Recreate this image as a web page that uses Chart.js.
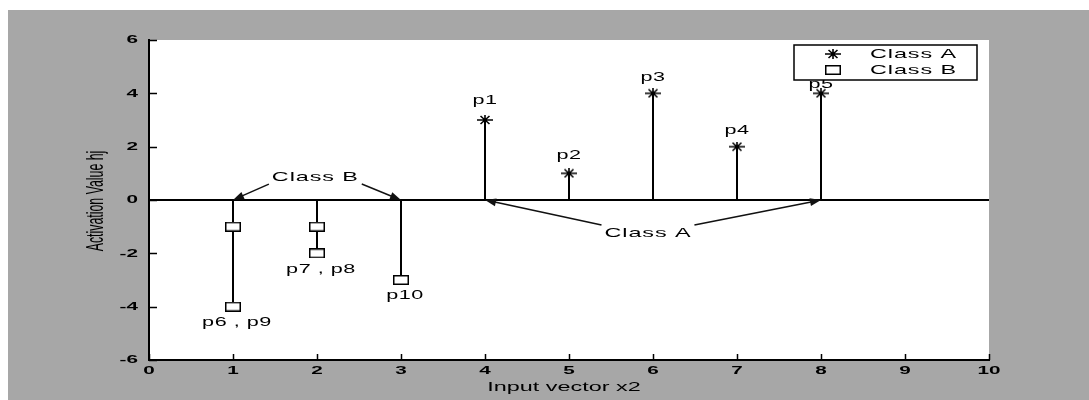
<!DOCTYPE html>
<html>
<head>
<meta charset="utf-8">
<script src="https://cdn.jsdelivr.net/npm/chart.js@4/dist/chart.umd.min.js"></script>
<style>
  html, body { margin: 0; padding: 0; background: #fff; }
  #wrap { width: 1089px; height: 400px; }
</style>
</head>
<body>
<div id="wrap"><canvas id="stemChart" width="1089" height="400"></canvas></div>
<script>
// Values
const classAX = [4, 5, 6, 7, 8];
const classAY = [3, 1, 4, 2, 4];
const classALabels = ['p1', 'p2', 'p3', 'p4', 'p5'];

const classBX = [1, 1, 2, 2, 3];
const classBY = [-1, -4, -1, -2, -3];
const groupBX = [1, 2, 3];
const groupBLabels = ['p6 , p9', 'p7 , p8', 'p10'];

const xRange = [0, 10];
const yRange = [-6, 6];
const xStep = 1;
const yStep = 2;

const noteText = ['Class B', 'Class A'];
const noteX = [1.98, 5.94];
const noteY = [0.86, -1.24];
const noteTips = [[1, 3], [4, 8]];

const seriesNames = ['Class A', 'Class B'];
const xTitle = 'Input vector x2';
const yTitle = 'Activation Value hj';

// the scanned figure is stretched sideways, so text gets the same stretch
const STRETCH = 1.8;
const FONT = '"Liberation Sans", Arial, sans-serif';

// small canvases used as point styles
function makeMarker(w, h, draw) {
    const cv = document.createElement('canvas');
    cv.width = w;
    cv.height = h;
    draw(cv.getContext('2d'), w, h);
    return cv;
}

const starMark = makeMarker(16, 10, function(c, w, h) {
    c.strokeStyle = '#000';
    c.lineWidth = 1.6;
    c.beginPath();
    c.moveTo(0, h / 2); c.lineTo(w, h / 2);
    c.moveTo(w / 2, 0); c.lineTo(w / 2, h);
    c.moveTo(w * 0.22, h * 0.1); c.lineTo(w * 0.78, h * 0.9);
    c.moveTo(w * 0.22, h * 0.9); c.lineTo(w * 0.78, h * 0.1);
    c.stroke();
});

const boxMark = makeMarker(16, 10, function(c, w, h) {
    c.fillStyle = '#fff';
    c.fillRect(1, 1, w - 2, h - 2);
    c.strokeStyle = '#000';
    c.lineWidth = 1.5;
    c.strokeRect(0.75, 0.75, w - 1.5, h - 1.5);
});

function stemPoints(xs, ys) {
    const pts = [];
    xs.forEach(function(x, i) {
        pts.push({x: x, y: 0}, {x: x, y: ys[i]}, {x: x, y: null});
    });
    return pts;
}

function markerPoints(xs, ys) {
    return xs.map(function(x, i) { return {x: x, y: ys[i]}; });
}

function setFont(ctx, size, spacing, weight) {
    ctx.font = (weight || 'normal') + ' ' + size + 'px ' + FONT;
    ctx.letterSpacing = (spacing || 0) + 'px';
}

function wideText(ctx, txt, x, y, opts) {
    opts = opts || {};
    ctx.save();
    setFont(ctx, opts.size || 13, opts.spacing, opts.weight);
    ctx.fillStyle = '#000';
    ctx.textBaseline = 'middle';
    ctx.textAlign = opts.align || 'center';
    ctx.translate(x, y);
    ctx.scale(STRETCH, 1);
    ctx.fillText(txt, 0, 0);
    ctx.restore();
}

function wideWidth(ctx, txt, size, spacing) {
    ctx.save();
    setFont(ctx, size, spacing);
    const w = ctx.measureText(txt).width * STRETCH;
    ctx.restore();
    return w;
}

function arrow(ctx, x0, y0, x1, y1) {
    const ang = Math.atan2(y1 - y0, x1 - x0);
    const len = 11, half = 4;
    ctx.beginPath();
    ctx.moveTo(x0, y0);
    ctx.lineTo(x1 - Math.cos(ang) * len * 0.8, y1 - Math.sin(ang) * len * 0.8);
    ctx.stroke();
    ctx.beginPath();
    ctx.moveTo(x1, y1);
    ctx.lineTo(x1 - Math.cos(ang) * len - Math.sin(ang) * half, y1 - Math.sin(ang) * len + Math.cos(ang) * half);
    ctx.lineTo(x1 - Math.cos(ang) * len + Math.sin(ang) * half, y1 - Math.sin(ang) * len - Math.cos(ang) * half);
    ctx.closePath();
    ctx.fill();
}

const labelNudgeA = [-19, -18, -16, -16, -9];
const noteStyle = { size: 13, spacing: 0.5 };
const pStyle = { size: 12, spacing: 0.3 };
const tickStyle = { size: 11.5, weight: 'bold' };

const decorPlugin = {
    id: 'decor',
    beforeDraw: function(chart) {
        const ctx = chart.ctx;
        const a = chart.chartArea;
        ctx.save();
        ctx.fillStyle = '#fff';
        ctx.fillRect(0, 0, chart.width, chart.height);
        ctx.fillStyle = '#a7a7a7';
        ctx.fillRect(8, 10, chart.width - 8, chart.height - 10);
        ctx.fillStyle = '#fff';
        ctx.fillRect(a.left, a.top, a.right - a.left, a.bottom - a.top);
        ctx.restore();
    },
    afterDraw: function(chart) {
        const ctx = chart.ctx;
        const a = chart.chartArea;
        const xs = chart.scales.x;
        const ys = chart.scales.y;
        ctx.save();

        // inward tick marks and stretched tick labels
        ctx.strokeStyle = '#000';
        ctx.lineWidth = 1.5;
        ctx.beginPath();
        xs.ticks.forEach(function(t) {
            const px = Math.round(xs.getPixelForValue(t.value)) + 0.5;
            ctx.moveTo(px, a.bottom);
            ctx.lineTo(px, a.bottom - 6);
        });
        ys.ticks.forEach(function(t) {
            const py = Math.round(ys.getPixelForValue(t.value)) + 0.5;
            ctx.moveTo(a.left, py);
            ctx.lineTo(a.left + 8, py);
        });
        ctx.stroke();
        xs.ticks.forEach(function(t) {
            wideText(ctx, String(t.value), xs.getPixelForValue(t.value), a.bottom + 11, tickStyle);
        });
        ys.ticks.forEach(function(t) {
            wideText(ctx, String(t.value), a.left - 11, ys.getPixelForValue(t.value),
                Object.assign({ align: 'right' }, tickStyle));
        });

        // point labels
        classAX.forEach(function(x, i) {
            wideText(ctx, classALabels[i], xs.getPixelForValue(x),
                ys.getPixelForValue(classAY[i]) + labelNudgeA[i], pStyle);
        });
        groupBX.forEach(function(x, i) {
            const low = Math.min.apply(null, classBY.filter(function(v, j) { return classBX[j] === x; }));
            wideText(ctx, groupBLabels[i], xs.getPixelForValue(x) + 4, ys.getPixelForValue(low) + 16, pStyle);
        });

        // class annotations with arrows
        ctx.fillStyle = '#111';
        ctx.strokeStyle = '#111';
        ctx.lineWidth = 1.5;
        noteText.forEach(function(txt, i) {
            const cx = xs.getPixelForValue(noteX[i]);
            const cy = ys.getPixelForValue(noteY[i]);
            wideText(ctx, txt, cx, cy, noteStyle);
            const hw = wideWidth(ctx, txt, noteStyle.size, noteStyle.spacing) / 2;
            const base = ys.getPixelForValue(0);
            const sy = cy < base ? cy + 7 : cy - 8;
            arrow(ctx, cx - hw - 3, sy, xs.getPixelForValue(noteTips[i][0]), base);
            arrow(ctx, cx + hw + 3, sy, xs.getPixelForValue(noteTips[i][1]), base);
        });

        // legend box
        const lw = 183, lh = 35;
        const lx = a.right - 12 - lw, ly = a.top + 5;
        ctx.fillStyle = '#fff';
        ctx.fillRect(lx, ly, lw, lh);
        ctx.strokeStyle = '#000';
        ctx.lineWidth = 1.5;
        ctx.strokeRect(lx, ly, lw, lh);
        [starMark, boxMark].forEach(function(img, i) {
            const rowY = ly + 9 + i * 16;
            ctx.drawImage(img, lx + 39 - img.width / 2, rowY - img.height / 2);
            wideText(ctx, seriesNames[i], lx + 76, rowY, Object.assign({ align: 'left' }, noteStyle));
        });

        // axis titles
        wideText(ctx, xTitle, (a.left + a.right) / 2 - 5, chart.height - 13, { size: 13 });

        ctx.save();
        ctx.fillStyle = '#000';
        ctx.translate(97, (a.top + a.bottom) / 2 + 1);
        ctx.rotate(-Math.PI / 2);
        ctx.scale(0.95, STRETCH);
        setFont(ctx, 13);
        ctx.textAlign = 'center';
        ctx.textBaseline = 'middle';
        ctx.fillText(yTitle, 0, 0);
        ctx.restore();

        ctx.restore();
    }
};

const ctx = document.getElementById('stemChart').getContext('2d');

new Chart(ctx, {
    type: 'scatter',
    data: {
        datasets: [
            {
                label: seriesNames[0],
                data: markerPoints(classAX, classAY),
                pointStyle: starMark,
                pointRadius: 6,
                order: 0,
                clip: false
            },
            {
                label: seriesNames[1],
                data: markerPoints(classBX, classBY),
                pointStyle: boxMark,
                pointRadius: 6,
                order: 0,
                clip: false
            },
            {
                type: 'line',
                label: 'stems A',
                data: stemPoints(classAX, classAY),
                borderColor: '#000',
                borderWidth: 2,
                pointRadius: 0,
                spanGaps: false,
                fill: false,
                order: 1
            },
            {
                type: 'line',
                label: 'stems B',
                data: stemPoints(classBX, classBY),
                borderColor: '#000',
                borderWidth: 2,
                pointRadius: 0,
                spanGaps: false,
                fill: false,
                order: 1
            },
            {
                type: 'line',
                label: 'baseline',
                data: [{x: xRange[0], y: 0}, {x: xRange[1], y: 0}],
                borderColor: '#000',
                borderWidth: 2,
                pointRadius: 0,
                fill: false,
                order: 2
            }
        ]
    },
    options: {
        responsive: false,
        animation: false,
        devicePixelRatio: 1,
        events: [],
        layout: {
            padding: { top: 40, right: 100, left: 0, bottom: 0 }
        },
        scales: {
            x: {
                type: 'linear',
                min: xRange[0],
                max: xRange[1],
                afterFit: function(s) { s.height = 40; },
                ticks: { stepSize: xStep, display: false },
                grid: { display: false, drawTicks: false },
                border: { display: true, color: '#000', width: 2 }
            },
            y: {
                type: 'linear',
                min: yRange[0],
                max: yRange[1],
                afterFit: function(s) { s.width = 149; },
                ticks: { stepSize: yStep, display: false },
                grid: { display: false, drawTicks: false },
                border: { display: true, color: '#000', width: 2 }
            }
        },
        plugins: {
            legend: { display: false },
            tooltip: { enabled: false }
        }
    },
    plugins: [decorPlugin]
});
</script>
</body>
</html>
